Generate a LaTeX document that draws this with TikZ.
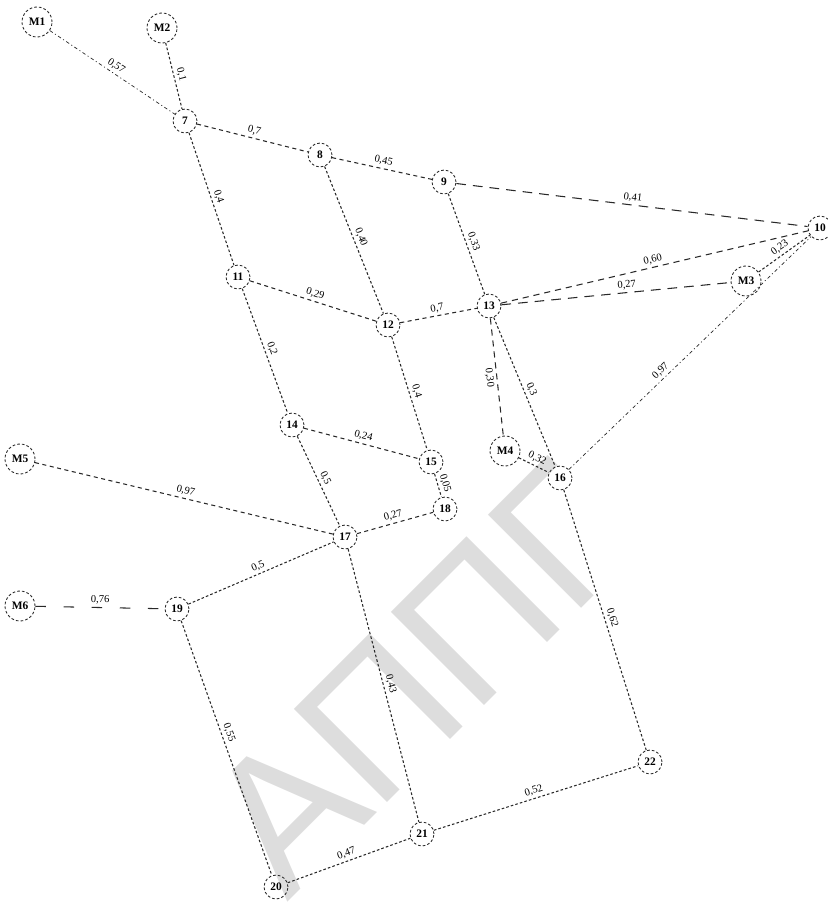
\documentclass[tikz,border=0pt]{standalone}
\usepackage{fontspec}
\setmainfont{Liberation Serif}
\newfontfamily\wmfont{Liberation Sans}
\usepackage{xcolor}
\usepackage{tikz}
\definecolor{wmgray}{RGB}{221, 221, 221}
\definecolor{netgray}{RGB}{40, 40, 40}

\begin{document}
\begin{tikzpicture}[
    x=0.02cm, y=-0.02cm,
    junc/.style={circle, draw=netgray, line width=0.5pt,
                 dash pattern=on 1.5pt off 1.2pt,
                 minimum size=0.48cm, inner sep=0pt,
                 font=\fontsize{6.5}{7}\selectfont\bfseries},
    src/.style={junc, minimum size=0.6cm},
    lbl/.style={font=\fontsize{6}{7}\selectfont, sloped, inner sep=1.5pt, solid},
    fine/.style={draw=netgray, line width=0.6pt, dash pattern=on 1.5pt off 1.2pt},
    short/.style={draw=netgray, line width=0.6pt, dash pattern=on 2.3pt off 2pt},
    medium/.style={draw=netgray, line width=0.6pt, dash pattern=on 3.5pt off 2.8pt},
    long/.style={draw=netgray, line width=0.6pt, dash pattern=on 5.5pt off 4pt},
    sparse/.style={draw=netgray, line width=0.6pt, dash pattern=on 6pt off 10pt},
    dashdot/.style={draw=netgray, line width=0.4pt,
                    dash pattern=on 2pt off 1.5pt on 0.6pt off 1.5pt},
  ]
  \useasboundingbox (0,0) rectangle (828,906);

  % ── watermark ────────────────────────────────────
  \node[anchor=base west, inner sep=0pt, rotate=45, text=wmgray,
        font=\wmfont\fontsize{109}{109}\selectfont] (wm) at (287,903) {АППГ};

  % ── nodes ────────────────────────────────────────
  \node[src]  (m1)  at ( 37, 22) {M1};
  \node[src]  (m2)  at (162, 28) {M2};
  \node[junc] (n7)  at (185,121) {7};
  \node[junc] (n8)  at (320,155) {8};
  \node[junc] (n9)  at (444,182) {9};
  \node[junc] (n10) at (820,228) {10};
  \node[junc] (n11) at (238,277) {11};
  \node[junc] (n12) at (388,325) {12};
  \node[junc] (n13) at (489,306) {13};
  \node[src]  (m3)  at (746,281) {M3};
  \node[junc] (n14) at (292,425) {14};
  \node[junc] (n15) at (431,462) {15};
  \node[src]  (m4)  at (505,451) {M4};
  \node[junc] (n16) at (560,478) {16};
  \node[src]  (m5)  at ( 20,459) {M5};
  \node[junc] (n17) at (345,537) {17};
  \node[junc] (n18) at (445,509) {18};
  \node[src]  (m6)  at ( 20,606) {M6};
  \node[junc] (n19) at (177,609) {19};
  \node[junc] (n22) at (650,762) {22};
  \node[junc] (n21) at (422,834) {21};
  \node[junc] (n20) at (276,887) {20};

  % ── pipes ────────────────────────────────────────
  \draw[dashdot] (m1)  -- node[lbl, above] {0,57} (n7);
  \draw[fine]    (m2)  -- node[lbl, above] {0,1}  (n7);
  \draw[short]   (n7)  -- node[lbl, above] {0,7}  (n8);
  \draw[short]   (n8)  -- node[lbl, above] {0,45} (n9);
  \draw[long]    (n9)  -- node[lbl, above] {0,41} (n10);
  \draw[fine]    (n7)  -- node[lbl, above] {0,4}  (n11);
  \draw[fine]    (n8)  -- node[lbl, above] {0,40} (n12);
  \draw[fine]    (n9)  -- node[lbl, above] {0,33} (n13);
  \draw[short]   (n11) -- node[lbl, above] {0,29} (n12);
  \draw[short]   (n12) -- node[lbl, above] {0,7}  (n13);
  \draw[medium]  (n13) -- node[lbl, above] {0,60} (n10);
  \draw[fine]    (m3)  -- node[lbl, above] {0,23} (n10);
  \draw[long]    (n13) -- node[lbl, above, pos=0.55] {0,27} (m3);
  \draw[fine]    (n11) -- node[lbl, above] {0,2}  (n14);
  \draw[fine]    (n12) -- node[lbl, above] {0,4}  (n15);
  \draw[medium]  (n13) -- node[lbl, below] {0,30} (m4);
  \draw[fine]    (n13) -- node[lbl, above] {0,3}  (n16);
  \draw[dashdot] (n16) -- node[lbl, above, pos=0.4] {0,97} (n10);
  \draw[short]   (n14) -- node[lbl, above] {0,24} (n15);
  \draw[fine]    (n15) -- node[lbl, above] {0,05} (n18);
  \draw[fine]    (m4)  -- node[lbl, above] {0,32} (n16);
  \draw[fine]    (n14) -- node[lbl, above] {0,5}  (n17);
  \draw[short]   (m5)  -- node[lbl, above] {0,97} (n17);
  \draw[short]   (n17) -- node[lbl, above] {0,27} (n18);
  \draw[fine]    (n19) -- node[lbl, above] {0,5}  (n17);
  \draw[sparse]  (m6)  -- node[lbl, above] {0,76} (n19);
  \draw[fine]    (n16) -- node[lbl, above] {0,62} (n22);
  \draw[fine]    (n17) -- node[lbl, above] {0,43} (n21);
  \draw[fine]    (n19) -- node[lbl, above, pos=0.45] {0,55} (n20);
  \draw[fine]    (n20) -- node[lbl, above] {0,47} (n21);
  \draw[fine]    (n21) -- node[lbl, above] {0,52} (n22);

\end{tikzpicture}
\end{document}
